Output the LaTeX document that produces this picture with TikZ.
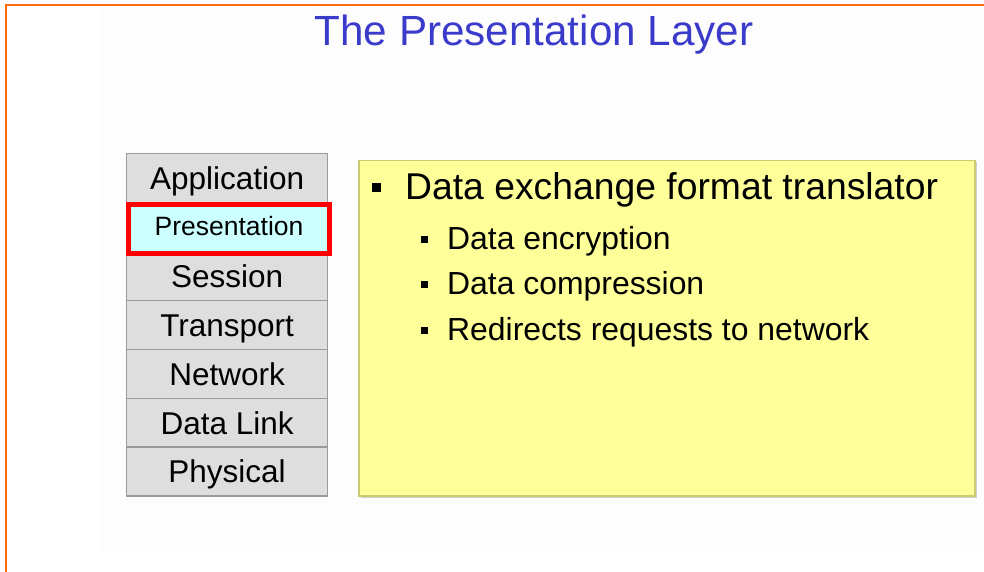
\documentclass[tikz,border=0pt]{standalone}
\usepackage{fontspec}
\setmainfont{Liberation Sans}
\definecolor{orangeline}{HTML}{FF6A10}
\definecolor{titleblue}{HTML}{3B3BCB}
\definecolor{layergray}{HTML}{DEDEDE}
\definecolor{layerborder}{HTML}{9A9A9A}
\definecolor{cyanfill}{HTML}{CCFFFF}
\definecolor{noteyellow}{HTML}{FFFF99}
\definecolor{noteborder}{HTML}{CACA70}
\definecolor{faintbg}{HTML}{FDFDFD}
\tikzset{
  layer/.style={draw=layerborder, line width=1.2pt, fill=layergray, minimum width=201pt, minimum height=48.9pt, inner sep=0pt, font=\fontsize{31.5}{31.5}\selectfont, text height=23pt, text depth=0pt, anchor=north west},
  sel/.style={draw=red, line width=5pt, fill=cyanfill, minimum width=201pt, minimum height=48.9pt, inner sep=0pt, font=\fontsize{26.5}{26.5}\selectfont, text height=14pt, text depth=0pt, anchor=north west},
  mainitem/.style={anchor=base west, inner sep=0pt, font=\fontsize{37.3}{37.3}\selectfont},
  subitem/.style={anchor=base west, inner sep=0pt, font=\fontsize{31.9}{31.9}\selectfont},
  bigbullet/.style={fill=black, minimum size=9pt, inner sep=0pt},
  smallbullet/.style={fill=black, minimum size=7pt, inner sep=0pt}
}
\begin{document}
\begin{tikzpicture}[x=1pt,y=-1pt]
\useasboundingbox (0,0) rectangle (984,572);
\fill[white] (0,0) rectangle (984,572);
\fill[faintbg] (100,7) rectangle (984,552);
\draw[orangeline, line width=1.6pt] (6,572) -- (6,5) -- (984,5);
\node[anchor=base, inner sep=0pt, text=titleblue, font=\fontsize{42.2}{42.2}\selectfont] (title) at (534,45.5) {The Presentation Layer};
% layers
\node[layer] (app) at (126,153) {Application};
\node[layer] (ses) at (126,250.8) {Session};
\node[layer] (tra) at (126,299.7) {Transport};
\node[layer] (net) at (126,348.6) {Network};
\node[layer] (dl) at (126,397.5) {Data Link};
\node[layer] (phy) at (126,446.4) {Physical};
\node[sel] (pres) at (126,201.9) {Presentation};
% note box
\fill[black!18] (360.5,162.5) rectangle (976.5,497.5);
\node[draw=noteborder, line width=1.5pt, fill=noteyellow, anchor=north west, minimum width=616pt, minimum height=335pt, inner sep=0pt] (note) at (358,160) {};
\node[bigbullet] (b0) at (376.5,187.5) {};
\node[mainitem] (t0) at (405,200) {Data exchange format translator};
\node[smallbullet] (b1) at (424.5,239) {};
\node[subitem] (t1) at (447,249) {Data encryption};
\node[smallbullet] (b2) at (424.5,284.5) {};
\node[subitem] (t2) at (447,294.5) {Data compression};
\node[smallbullet] (b3) at (424.5,330) {};
\node[subitem] (t3) at (447,340) {Redirects requests to network};
\end{tikzpicture}
\end{document}
